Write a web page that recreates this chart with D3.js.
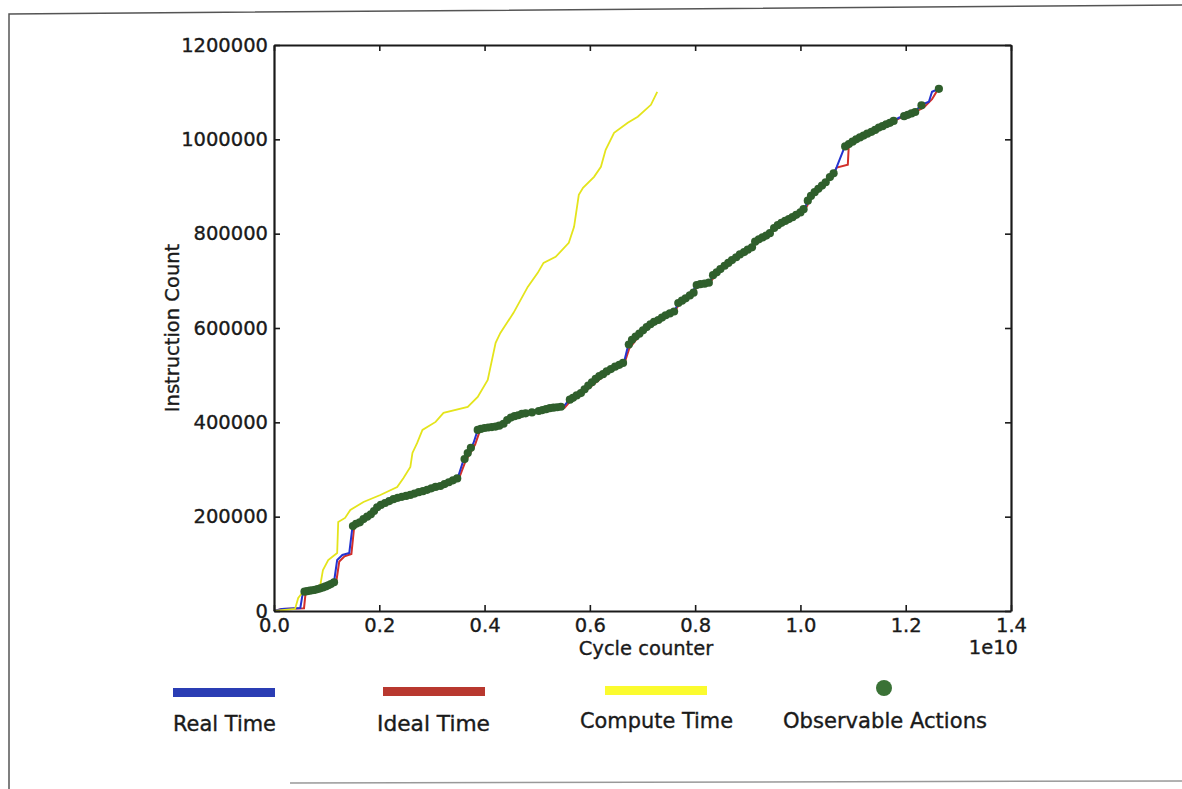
<!DOCTYPE html>
<html>
<head>
<meta charset="utf-8">
<script src="https://cdn.jsdelivr.net/npm/d3@7"></script>
<style>
  body { margin: 0; background: #fff; }
  svg { display: block; font-family: "DejaVu Sans", Verdana, sans-serif; }
</style>
</head>
<body>
<div id="chart"></div>
<script>
// cycle counter in units of 1e10, instruction count raw
const realTime = [
  [0, 0], [0.015, 4200], [0.050, 6400], [0.055, 40300], [0.074, 44500], [0.103, 55100],
  [0.114, 61500], [0.120, 108200], [0.130, 118800], [0.143, 123000], [0.149, 178200],
  [0.164, 188800], [0.183, 203600], [0.196, 220600], [0.211, 229100], [0.234, 239700],
  [0.259, 246000], [0.291, 256600], [0.316, 265100], [0.349, 282100], [0.360, 320300],
  [0.370, 337200], [0.379, 356300], [0.387, 383900], [0.417, 390300], [0.436, 396600],
  [0.446, 409400], [0.482, 420000], [0.526, 430600], [0.550, 432700], [0.560, 447500],
  [0.583, 462400], [0.627, 500600], [0.665, 528100], [0.672, 559900], [0.697, 589600],
  [0.730, 617200], [0.760, 634200], [0.768, 653300], [0.792, 670200], [0.802, 691400],
  [0.827, 695700], [0.834, 712700], [0.863, 738100], [0.893, 761400], [0.910, 772000],
  [0.912, 782600], [0.939, 797500], [0.950, 812300], [0.983, 833600], [1.002, 846300],
  [1.011, 861100], [1.015, 878100], [1.046, 907800], [1.065, 931100], [1.069, 941700],
  [1.084, 984100], [1.097, 994700], [1.135, 1015900], [1.173, 1037200], [1.187, 1045700],
  [1.217, 1058400], [1.230, 1073200], [1.244, 1079600], [1.250, 1100800], [1.263, 1107200]
];

const idealTime = [
  [0, 0], [0.015, 4000], [0.057, 6000], [0.060, 38000], [0.074, 43000], [0.103, 54000],
  [0.118, 60000], [0.124, 105000], [0.134, 116000], [0.147, 121000], [0.152, 175000],
  [0.164, 186000], [0.183, 201000], [0.196, 218000], [0.211, 227000], [0.234, 237000],
  [0.259, 244000], [0.291, 255000], [0.316, 263000], [0.351, 280000], [0.364, 318000],
  [0.373, 335000], [0.382, 353000], [0.391, 382000], [0.417, 388000], [0.438, 395000],
  [0.449, 408000], [0.482, 418000], [0.526, 429000], [0.552, 431000], [0.563, 445000],
  [0.585, 460000], [0.627, 499000], [0.666, 526000], [0.675, 557000], [0.697, 588000],
  [0.730, 616000], [0.760, 633000], [0.770, 651000], [0.792, 669000], [0.805, 689000],
  [0.827, 694000], [0.837, 710000], [0.863, 737000], [0.893, 760000], [0.910, 771000],
  [0.915, 781000], [0.939, 796000], [0.952, 810000], [0.983, 832000], [1.002, 845000],
  [1.013, 859000], [1.018, 876000], [1.046, 905000], [1.063, 928000], [1.069, 940000],
  [1.090, 946000], [1.092, 990000], [1.097, 994000], [1.135, 1015000], [1.173, 1036000],
  [1.187, 1044000], [1.217, 1057000], [1.235, 1068000], [1.250, 1085000], [1.258, 1100000],
  [1.263, 1107000]
];

const computeTime = [
  [0, 0], [0.040, 4200], [0.046, 27600], [0.055, 40300], [0.074, 48800], [0.088, 55100],
  [0.093, 87000], [0.103, 108200], [0.120, 123000], [0.122, 188800], [0.135, 197300],
  [0.145, 214200], [0.170, 231200], [0.202, 246000], [0.234, 263000], [0.246, 282100],
  [0.259, 305400], [0.263, 335100], [0.272, 356300], [0.282, 383900], [0.307, 400900],
  [0.322, 420000], [0.368, 432700], [0.387, 453900], [0.406, 490000], [0.421, 568400],
  [0.430, 589600], [0.455, 632100], [0.482, 687200], [0.501, 716900], [0.512, 738100],
  [0.535, 750800], [0.560, 780500], [0.570, 814500], [0.579, 882300], [0.587, 897200],
  [0.608, 920500], [0.621, 941700], [0.630, 977800], [0.646, 1013800], [0.672, 1035000],
  [0.691, 1047800], [0.716, 1073200], [0.728, 1100800]
];

const observableActions = [
  [0.058, 41000], [0.063, 42000], [0.068, 43000], [0.073, 44000], [0.078, 45000], [0.083, 46500],
  [0.088, 48000], [0.093, 50000], [0.098, 52000], [0.103, 54500], [0.108, 57000],
  [0.114, 61000], [0.150, 180000], [0.156, 185000], [0.163, 188000], [0.170, 195000],
  [0.177, 200000], [0.184, 205000], [0.190, 212000], [0.196, 220000], [0.203, 225000],
  [0.211, 229000], [0.219, 233000], [0.227, 237000], [0.235, 240000], [0.243, 242000],
  [0.251, 244000], [0.259, 246000], [0.267, 249000], [0.275, 252000], [0.283, 254000],
  [0.291, 257000], [0.299, 260000], [0.307, 263000], [0.316, 265000], [0.324, 269000],
  [0.332, 273000], [0.340, 277000], [0.348, 281000], [0.362, 322000], [0.368, 335000],
  [0.374, 346000], [0.387, 384000], [0.393, 386000], [0.400, 388000], [0.407, 389000],
  [0.414, 390000], [0.421, 391000], [0.428, 393000], [0.436, 397000], [0.443, 405000],
  [0.450, 410000], [0.457, 413000], [0.464, 415000], [0.471, 418000], [0.478, 419000],
  [0.490, 421000], [0.503, 424000], [0.510, 426000], [0.517, 428000], [0.524, 430000],
  [0.531, 431000], [0.538, 432000], [0.545, 433000], [0.562, 448000], [0.568, 452000],
  [0.575, 457000], [0.583, 462000], [0.590, 470000], [0.597, 478000], [0.604, 485000],
  [0.611, 492000], [0.618, 498000], [0.625, 502000], [0.632, 508000], [0.640, 513000],
  [0.648, 518000], [0.656, 522000], [0.663, 526000], [0.674, 565000], [0.680, 575000],
  [0.687, 582000], [0.694, 588000], [0.701, 595000], [0.708, 602000], [0.715, 608000],
  [0.722, 613000], [0.730, 617000], [0.737, 622000], [0.744, 627000], [0.752, 631000],
  [0.760, 635000], [0.768, 653000], [0.775, 658000], [0.782, 663000], [0.790, 669000],
  [0.797, 675000], [0.803, 691000], [0.810, 693000], [0.818, 694000], [0.826, 696000],
  [0.834, 712000], [0.841, 718000], [0.848, 725000], [0.856, 732000], [0.863, 738000],
  [0.870, 744000], [0.878, 750000], [0.885, 756000], [0.893, 761000], [0.900, 766000],
  [0.908, 771000], [0.914, 783000], [0.921, 788000], [0.928, 792000], [0.935, 796000],
  [0.942, 801000], [0.950, 812000], [0.957, 818000], [0.964, 823000], [0.971, 827000],
  [0.978, 831000], [0.985, 835000], [0.992, 840000], [1.000, 845000], [1.006, 852000],
  [1.014, 870000], [1.020, 880000], [1.027, 888000], [1.034, 895000], [1.041, 902000],
  [1.048, 909000], [1.056, 920000], [1.063, 928000], [1.085, 985000], [1.092, 990000],
  [1.099, 995000], [1.106, 1000000], [1.113, 1004000], [1.120, 1008000], [1.127, 1012000],
  [1.135, 1016000], [1.142, 1020000], [1.149, 1025000], [1.156, 1028000], [1.163, 1032000],
  [1.170, 1035000], [1.177, 1039000], [1.197, 1049000], [1.204, 1052000], [1.211, 1055000],
  [1.218, 1058000], [1.230, 1072000], [1.263, 1107000]
];

const xTicks = [0, 0.2, 0.4, 0.6, 0.8, 1.0, 1.2, 1.4];
const yTicks = [0, 200000, 400000, 600000, 800000, 1000000, 1200000];
const legendLabels = ["Real Time", "Ideal Time", "Compute Time", "Observable Actions"];

const width = 1182;
const height = 789;
const margin = {top: 45, right: 171, bottom: 178, left: 274};
const ink = '#1a1a1a';

const svg = d3.select('#chart')
  .append('svg')
  .attr('width', width)
  .attr('height', height);

// scanned page frame
svg.append('path')
  .attr('d', 'M9,789 L9,14 L1182,5')
  .attr('fill', 'none')
  .attr('stroke', '#555')
  .attr('stroke-width', 1.5);
svg.append('line')
  .attr('x1', 290).attr('y1', 783).attr('x2', 1182).attr('y2', 781)
  .attr('stroke', '#999').attr('stroke-width', 1.5);

const x = d3.scaleLinear()
  .domain([0, 1.4])
  .range([margin.left, width - margin.right]);

const y = d3.scaleLinear()
  .domain([0, 1200000])
  .range([height - margin.bottom, margin.top]);

const line = d3.line()
  .x(d => x(d[0]))
  .y(d => y(d[1]));

// the lines
svg.append('path').datum(idealTime)
  .attr('d', line).attr('fill', 'none')
  .attr('stroke', '#d2302a').attr('stroke-width', 2);

svg.append('path').datum(realTime)
  .attr('d', line).attr('fill', 'none')
  .attr('stroke', '#2433d0').attr('stroke-width', 2);

svg.append('path').datum(computeTime)
  .attr('d', line).attr('fill', 'none')
  .attr('stroke', '#e4e41c').attr('stroke-width', 1.8);

svg.append('g')
  .attr('fill', '#2f5f2c')
  .selectAll('circle')
  .data(observableActions)
  .join('circle')
    .attr('cx', d => x(d[0]))
    .attr('cy', d => y(d[1]))
    .attr('r', 4.1);

// axes, matplotlib style inward ticks
function xAxis(g) {
  g.attr('transform', `translate(0,${height - margin.bottom})`)
    .call(d3.axisBottom(x).tickValues(xTicks).tickFormat(d3.format('.1f'))
      .tickSize(-6).tickSizeOuter(0).tickPadding(7));
}
function yAxis(g) {
  g.attr('transform', `translate(${margin.left},0)`)
    .call(d3.axisLeft(y).tickValues(yTicks).tickFormat(d3.format('d'))
      .tickSize(-6).tickSizeOuter(0).tickPadding(6));
}
function topAxis(g) {
  g.attr('transform', `translate(0,${margin.top})`)
    .call(d3.axisTop(x).tickValues(xTicks).tickFormat('').tickSize(-6).tickSizeOuter(0));
}
function rightAxis(g) {
  g.attr('transform', `translate(${width - margin.right},0)`)
    .call(d3.axisRight(y).tickValues(yTicks).tickFormat('').tickSize(-6).tickSizeOuter(0));
}

[xAxis, yAxis, topAxis, rightAxis].forEach(fn => {
  svg.append('g').call(fn)
    .attr('font-size', '19.5px')
    .attr('font-family', '"DejaVu Sans", Verdana, sans-serif')
    .call(g => g.selectAll('path,line').attr('stroke', ink).attr('stroke-width', 1.6))
    .call(g => g.selectAll('text').attr('fill', ink).attr('stroke', ink).attr('stroke-width', 0.35));
});
svg.selectAll('.domain').attr('stroke-width', 2.2);

// axis labels
svg.append('text')
  .attr('x', 646)
  .attr('y', height - margin.bottom + 44)
  .attr('text-anchor', 'middle')
  .attr('font-size', '19.5px').attr('fill', ink)
  .attr('stroke', ink).attr('stroke-width', 0.35)
  .text('Cycle counter');

svg.append('text')
  .attr('transform', `translate(179,${(y(0) + y(1200000)) / 2}) rotate(-90)`)
  .attr('text-anchor', 'middle')
  .attr('font-size', '19.5px').attr('fill', ink)
  .attr('stroke', ink).attr('stroke-width', 0.35)
  .text('Instruction Count');

svg.append('text')
  .attr('x', 1018)
  .attr('y', height - margin.bottom + 43)
  .attr('text-anchor', 'end')
  .attr('font-size', '19.5px').attr('fill', ink)
  .attr('stroke', ink).attr('stroke-width', 0.35)
  .text('1e10');

// legend
const legendX = [173, 383, 605, 884];
const legendTextX = [173, 377, 580, 783];
const legendColors = ['#2a3db4', '#b8382f', '#fbfb2e', '#3a7236'];

legendLabels.forEach((label, i) => {
  if (i < 3) {
    svg.append('rect')
      .attr('x', legendX[i]).attr('y', 688 - i)
      .attr('width', 102).attr('height', 9)
      .attr('fill', legendColors[i]);
  } else {
    svg.append('circle')
      .attr('cx', legendX[i]).attr('cy', 688)
      .attr('r', 8).attr('fill', legendColors[i]);
  }
  svg.append('text')
    .attr('x', legendTextX[i]).attr('y', 731 - (i > 1 ? 3 : 0))
    .attr('font-size', '20.5px').attr('fill', ink)
    .attr('stroke', ink).attr('stroke-width', 0.35)
    .attr('textLength', [103, 113, 153, 204][i])
    .attr('lengthAdjust', 'spacingAndGlyphs')
    .text(label);
});
</script>
</body>
</html>
